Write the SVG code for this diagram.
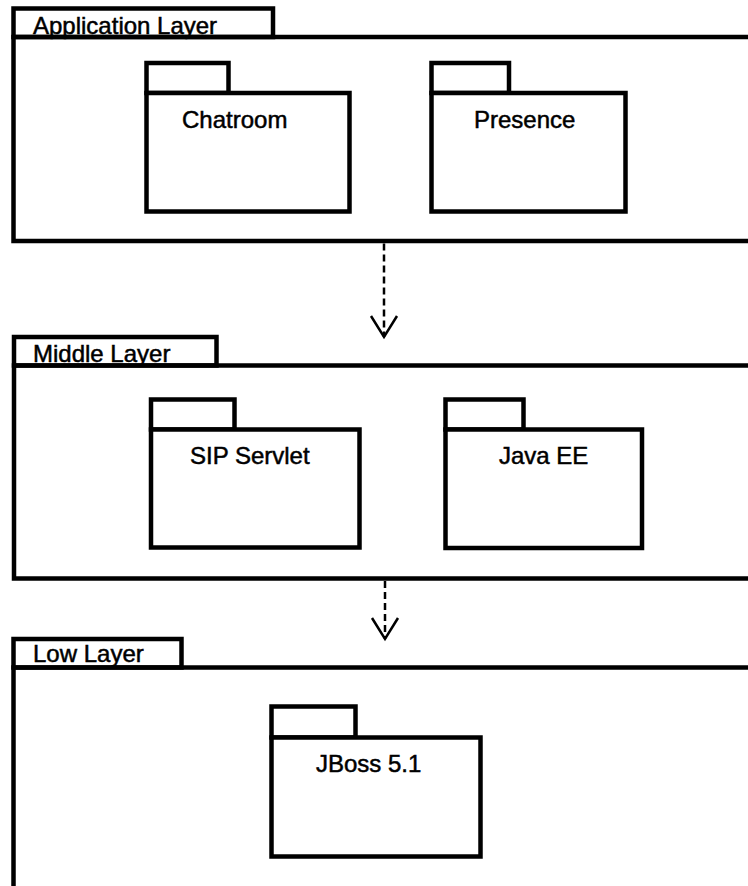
<svg xmlns="http://www.w3.org/2000/svg" width="748" height="886" viewBox="0 0 748 886">
  <style>
    .frame { fill: none; stroke: #000; stroke-width: 4.5; }
    .pkg { fill: #fff; stroke: #000; stroke-width: 4.5; }
    .label { font-family: "Liberation Sans", Arial, sans-serif; font-size: 24px; fill: #000; stroke: #000; stroke-width: 0.5; }
    .dep { fill: none; stroke: #000; stroke-width: 2.5; stroke-dasharray: 7 4; }
    .head { fill: none; stroke: #000; stroke-width: 2.5; stroke-dasharray: none; stroke-linejoin: miter; }
  </style>
  <defs>
    <marker id="open" markerUnits="userSpaceOnUse" markerWidth="30" markerHeight="30" viewBox="-25 -15 30 30" refX="0" refY="0" orient="auto" overflow="visible">
      <path class="head" d="M -21 -13 L 0 0 L -21 13"/>
    </marker>
  </defs>
  <rect width="748" height="886" fill="#fff"/>

  <g id="application-layer">
    <text class="label" x="33" y="34">Application Layer</text>
    <rect class="frame" x="13.5" y="8.5" width="259.5" height="28.5"/>
    <rect class="frame" x="13.5" y="37" width="800" height="204"/>
  </g>
  <g id="chatroom">
    <rect class="pkg" x="146.5" y="63" width="82" height="30"/>
    <rect class="pkg" x="146.5" y="93" width="203" height="118.5"/>
    <text class="label" x="182" y="128">Chatroom</text>
  </g>
  <g id="presence">
    <rect class="pkg" x="431.5" y="63" width="77.5" height="30"/>
    <rect class="pkg" x="431.5" y="93" width="194" height="118.5"/>
    <text class="label" x="474" y="128">Presence</text>
  </g>

  <g id="middle-layer">
    <text class="label" x="33" y="362">Middle Layer</text>
    <rect class="frame" x="14" y="337" width="202.5" height="28.5"/>
    <rect class="frame" x="14" y="365.5" width="800" height="213"/>
  </g>
  <g id="sip-servlet">
    <rect class="pkg" x="151" y="399.5" width="83.5" height="30"/>
    <rect class="pkg" x="151" y="429.5" width="208.5" height="118"/>
    <text class="label" x="190" y="464">SIP Servlet</text>
  </g>
  <g id="java-ee">
    <rect class="pkg" x="445.5" y="399.5" width="78" height="30"/>
    <rect class="pkg" x="445.5" y="429.5" width="196.5" height="118.5"/>
    <text class="label" x="499" y="464">Java EE</text>
  </g>

  <g id="low-layer">
    <text class="label" x="33" y="662">Low Layer</text>
    <rect class="frame" x="13.5" y="639" width="168" height="28.5"/>
    <rect class="frame" x="13.5" y="667.5" width="800" height="300"/>
  </g>
  <g id="jboss">
    <rect class="pkg" x="271.5" y="706.5" width="84" height="31"/>
    <rect class="pkg" x="271.5" y="737.5" width="209" height="119"/>
    <text class="label" x="316" y="772">JBoss 5.1</text>
  </g>

  <g id="connectors">
    <path class="dep" d="M 384 243.5 L 384 337" marker-end="url(#open)"/>
    <path class="dep" d="M 385 581 L 385 639" marker-end="url(#open)"/>
  </g>
</svg>
